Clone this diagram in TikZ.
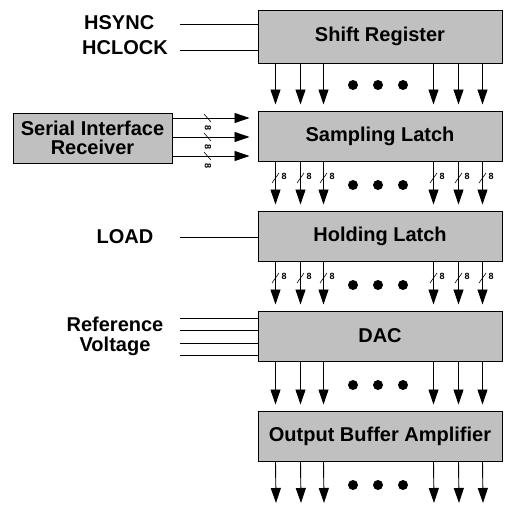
\documentclass[tikz,border=0pt]{standalone}
\usepackage{fontspec}
\setmainfont{Liberation Sans}
\usetikzlibrary{arrows.meta}
\definecolor{blockgray}{RGB}{192,192,192}

\tikzset{
  block/.style={draw=black, line width=1pt, fill=blockgray, inner sep=0pt,
    minimum width=244pt, minimum height=50pt,
    font=\bfseries\fontsize{20}{21}\selectfont},
  lbl/.style={inner sep=0pt, font=\bfseries\fontsize{20}{21}\selectfont},
  wire/.style={line width=0.8pt},
  dn/.style={line width=0.9pt, -{Triangle[width=10pt,length=15pt]}},
  busno/.style={inner sep=0pt, font=\bfseries\fontsize{9}{9}\selectfont},
}

\begin{document}
\begin{tikzpicture}[x=1pt,y=-1pt]
  \useasboundingbox (0,0) rectangle (506,506);

  % blocks of the column driver
  \node[block, minimum height=53pt] (shift) at (380,36.5) {Shift Register};
  \node[block] (sample) at (380,136) {Sampling Latch};
  \node[block] (hold)   at (380,236) {Holding Latch};
  \node[block] (dac)    at (380,336) {DAC};
  \node[block] (buffer) at (380,436) {Output Buffer Amplifier};
  \node[block, minimum width=159pt, align=center] (serial) at (92.5,138)
    {Serial Interface\\[-2pt]Receiver};
  \coordinate (out) at (258,503);

  % left inputs
  \node[lbl, anchor=west] (hsync)  at (84,23)  {HSYNC};
  \node[lbl, anchor=west] (hclock) at (82,48)  {HCLOCK};
  \node[lbl] (load) at (125,237) {LOAD};
  \node[lbl, align=center] (refv) at (115,336) {Reference\\[-1pt]Voltage};
  \foreach \y/\name in {24/hs,50/hc,237/ld,318/r1,330/r2,343/r3,355/r4}
    \coordinate (\name) at (180,\y);
  \draw[wire] (hs) -- (hs -| shift.west) (hc) -- (hc -| shift.west);
  \draw[wire] (ld) -- (ld -| hold.west);
  \foreach \name in {r1,r2,r3,r4}
    \draw[wire] (\name) -- (\name -| dac.west);

  % serial receiver into the sampling latch
  \foreach \y in {118,137,156} {
    \coordinate (s) at (serial.east |- 0,\y);
    \draw[dn] (s) -- ([xshift=-8pt]sample.west |- s);
    \draw[line width=0.6pt] (204,\y-4) -- (211,\y+4);
    \node[busno, rotate=-90] at (208,\y+10) {8};
  }

  % vertical buses
  \foreach \o in {18,43,66,176,201,225} {
    \draw[dn] ([xshift=\o pt]shift.south west)  -- ([xshift=\o pt, yshift=6pt]sample.north west);
    \draw[dn] ([xshift=\o pt]sample.south west) -- ([xshift=\o pt, yshift=6pt]hold.north west);
    \draw[dn] ([xshift=\o pt]hold.south west)   -- ([xshift=\o pt, yshift=6pt]dac.north west);
    \draw[dn] ([xshift=\o pt]dac.south west)    -- ([xshift=\o pt, yshift=6pt]buffer.north west);
    \draw[dn] ([xshift=\o pt]buffer.south west) -- ([xshift=\o pt]out);
    % 8-bit marks
    \foreach \y in {178,278} {
      \draw[line width=0.6pt] (258+\o-4,\y+5) -- (258+\o+3,\y-5);
      \node[busno] at (258+\o+8,\y-2) {8};
    }
  }

  % dots between the outer buses
  \foreach \y in {85,185,285,385,485}
    \foreach \x in {353,378,403}
      \fill (\x,\y) circle (5pt);
\end{tikzpicture}
\end{document}
